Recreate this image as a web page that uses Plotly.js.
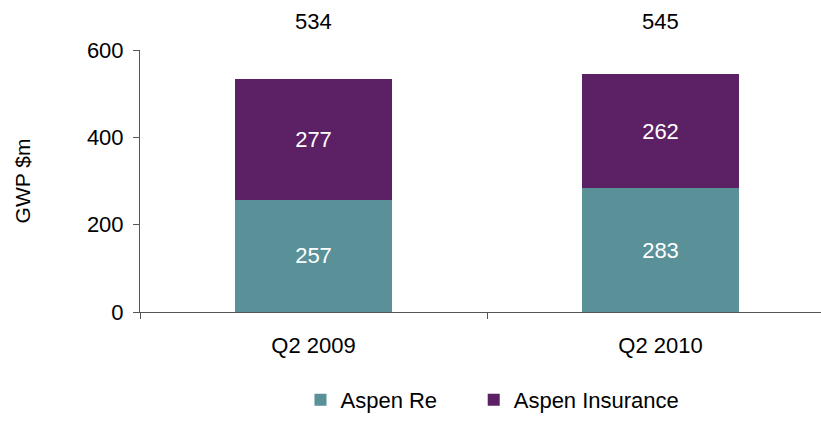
<!DOCTYPE html>
<html>
<head>
<meta charset="utf-8">
<script src="https://cdn.plot.ly/plotly-3.0.1.min.js"></script>
<style>html,body{margin:0;padding:0;background:#fff;}#chart{width:821px;height:421px;}</style>
</head>
<body>
<div id="chart"></div>
<script>
const categories = ["Q2 2009", "Q2 2010"];
const aspenRe = [257, 283];
const aspenInsurance = [277, 262];
const totals = [534, 545];
const seriesNames = ["Aspen Re", "Aspen Insurance"];

const font = {family: "Liberation Sans, Arial, sans-serif", size: 22, color: "#000"};

const traces = [
  {type: "bar", name: seriesNames[0], x: categories, y: aspenRe, width: 0.455,
   marker: {color: "#5A9199"}, text: aspenRe.map(String), textposition: "inside",
   insidetextanchor: "middle", textfont: {family: font.family, size: 22, color: "#fff"},
   constraintext: "none", hoverinfo: "skip", legend: "legend"},
  {type: "bar", name: seriesNames[1], x: categories, y: aspenInsurance, width: 0.455,
   marker: {color: "#5C2065"}, text: aspenInsurance.map(String), textposition: "inside",
   insidetextanchor: "middle", textfont: {family: font.family, size: 22, color: "#fff"},
   constraintext: "none", hoverinfo: "skip", legend: "legend2"}
];

const legendBase = {orientation: "h", xref: "container", xanchor: "left",
  yref: "container", y: 0, yanchor: "bottom", font: font, bgcolor: "rgba(0,0,0,0)"};

const layout = {
  width: 821, height: 421,
  margin: {l: 140, r: 0, t: 50, b: 109, pad: 0, autoexpand: false},
  barmode: "stack",
  paper_bgcolor: "#fff", plot_bgcolor: "#fff",
  font: font,
  showlegend: true,
  legend: Object.assign({}, legendBase, {x: 0.366}),
  legend2: Object.assign({}, legendBase, {x: 0.577}),
  xaxis: {type: "category", range: [-0.5, 1.4625], showgrid: false, zeroline: false,
          showline: true, linecolor: "#555", linewidth: 1, ticks: "outside", ticklen: 6,
          tickcolor: "#555", tickson: "boundaries", ticklabelstandoff: 14, tickfont: font, fixedrange: true},
  yaxis: {range: [0, 600], tickvals: [0, 200, 400, 600], showgrid: false, zeroline: false,
          showline: true, linecolor: "#555", linewidth: 1, ticks: "outside", ticklen: 6,
          tickcolor: "#555", ticklabelstandoff: 5, tickfont: font,
          title: {text: "GWP $m", font: {family: font.family, size: 21, color: "#000"}, standoff: 50}, fixedrange: true},
  annotations: categories.map((c, i) => ({
    x: c, xref: "x", y: 1.107, yref: "paper", text: String(totals[i]),
    showarrow: false, font: font, xanchor: "center", yanchor: "middle"
  }))
};

Plotly.newPlot("chart", traces, layout, {displayModeBar: false, staticPlot: true});
</script>
</body>
</html>
